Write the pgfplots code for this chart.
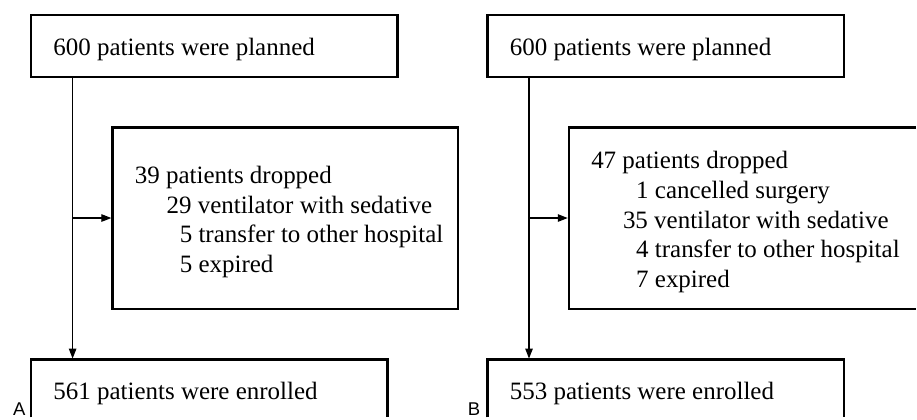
\documentclass[border=0pt]{standalone}
\usepackage{pgfplots}
\pgfplotsset{compat=1.18}
\usepackage{fontspec}
\setmainfont{Liberation Serif}
\newfontfamily\labelfont{Liberation Sans}
\usetikzlibrary{arrows.meta}
\begin{document}
\begin{tikzpicture}
\begin{axis}[x=1bp, y=1bp, xmin=0, xmax=917, ymin=0, ymax=418, y dir=reverse,
  hide axis, scale only axis, clip=false,
  every node/.style={inner sep=0pt},
  ]
\path[fill=white] (axis cs:0,0) rectangle (axis cs:917,418);
% ---------- panel A ----------
\draw[line width=2.4bp] (axis cs:31,15) rectangle (axis cs:398,77);
\draw[line width=2.4bp] (axis cs:112.7,127.7) rectangle (axis cs:458.3,309.3);
\draw[line width=2.4bp] (axis cs:31,418) -- (axis cs:31,360) -- (axis cs:388,360) -- (axis cs:388,418);
\draw[line width=1.2bp, -{Triangle[length=10bp,width=7.5bp]}] (axis cs:72.7,77) -- (axis cs:72.7,359);
\draw[line width=1.2bp, -{Triangle[length=10bp,width=7.5bp]}] (axis cs:72.7,218.3) -- (axis cs:111.5,218.3);
\node[anchor=base west, font=\fontsize{25bp}{30bp}\selectfont] at (axis cs:50,56) {600 patients were planned};
\node[anchor=base west, font=\fontsize{25bp}{30bp}\selectfont] at (axis cs:131.5,183.3) {39 patients dropped};
\node[anchor=base west, font=\fontsize{25bp}{30bp}\selectfont] at (axis cs:163.3,213.3) {29 ventilator with sedative};
\node[anchor=base west, font=\fontsize{25bp}{30bp}\selectfont] at (axis cs:176.5,243.3) {5 transfer to other hospital};
\node[anchor=base west, font=\fontsize{25bp}{30bp}\selectfont] at (axis cs:176.5,273.3) {5 expired};
\node[anchor=base west, font=\fontsize{25bp}{30bp}\selectfont] at (axis cs:50,400) {561 patients were enrolled};
\node[anchor=base west, font=\labelfont\fontsize{18.5bp}{20bp}\selectfont] at (axis cs:9.5,416.5) {A};
% ---------- panel B ----------
\draw[line width=2.4bp] (axis cs:488,15) rectangle (axis cs:845,77);
\draw[line width=2.4bp] (axis cs:917,127.7) -- (axis cs:569.7,127.7) -- (axis cs:569.7,309.3) -- (axis cs:917,309.3);
\draw[line width=2.4bp] (axis cs:488,418) -- (axis cs:488,360) -- (axis cs:845,360) -- (axis cs:845,418);
\draw[line width=1.2bp, -{Triangle[length=10bp,width=7.5bp]}] (axis cs:529.7,77) -- (axis cs:529.7,359);
\draw[line width=1.2bp, -{Triangle[length=10bp,width=7.5bp]}] (axis cs:529.7,218.3) -- (axis cs:568.5,218.3);
\node[anchor=base west, font=\fontsize{25bp}{30bp}\selectfont] at (axis cs:507,56) {600 patients were planned};
\node[anchor=base west, font=\fontsize{25bp}{30bp}\selectfont] at (axis cs:588.5,168.3) {47 patients dropped};
\node[anchor=base west, font=\fontsize{25bp}{30bp}\selectfont] at (axis cs:633.5,198.3) {1 cancelled surgery};
\node[anchor=base west, font=\fontsize{25bp}{30bp}\selectfont] at (axis cs:620.3,228.3) {35 ventilator with sedative};
\node[anchor=base west, font=\fontsize{25bp}{30bp}\selectfont] at (axis cs:633.5,258.3) {4 transfer to other hospital};
\node[anchor=base west, font=\fontsize{25bp}{30bp}\selectfont] at (axis cs:633.5,288.3) {7 expired};
\node[anchor=base west, font=\fontsize{25bp}{30bp}\selectfont] at (axis cs:507,400) {553 patients were enrolled};
\node[anchor=base west, font=\labelfont\fontsize{18.5bp}{20bp}\selectfont] at (axis cs:465,416.5) {B};
\end{axis}
\end{tikzpicture}
\end{document}
